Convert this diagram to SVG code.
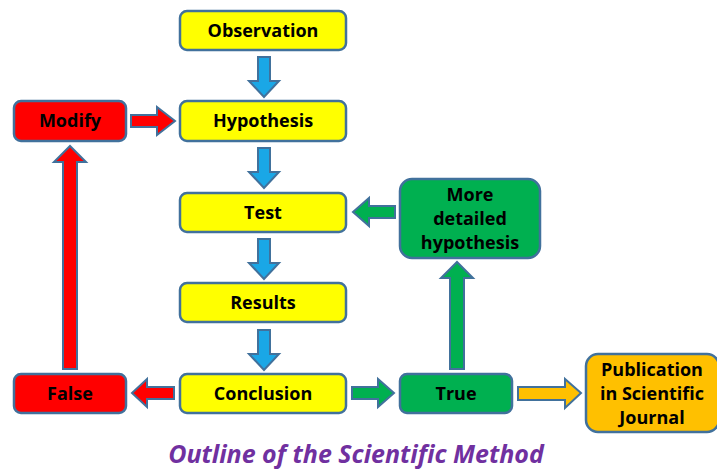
<svg xmlns="http://www.w3.org/2000/svg" width="717" height="469" viewBox="0 0 717 469">
<style>
.box{stroke:#41719C;stroke-width:2.5}
.y{fill:#FFFF00}.r{fill:#FF0000}.g{fill:#00B050}.o{fill:#FFC000}
.arr{stroke:#41719C;stroke-width:2;stroke-linejoin:miter}
.ab{fill:#1AA7E6}
text{font-family:"Open Sans","Liberation Sans",sans-serif;font-weight:bold;font-size:18px;fill:#000;text-anchor:middle}
.title{font-style:italic;font-size:25px;fill:#7030A0}
</style>
<defs>
<polygon id="down" points="-6,0 6,0 6,24 15,24 0,40 -15,24 -6,24"/>
</defs>
<g id="connectors">
<use href="#down" class="arr ab" transform="translate(264,57)"/>
<use href="#down" class="arr ab" transform="translate(264,148)"/>
<use href="#down" class="arr ab" transform="translate(264,239)"/>
<use href="#down" class="arr ab" transform="translate(264,330)"/>
<polygon class="arr r" points="131,115 157,115 157,107 175,121 157,135 157,127 131,127"/>
<polygon class="arr r" points="63,369 63,162 54,162 70,146 86,162 77,162 77,369"/>
<polygon class="arr r" points="174,387 147,387 147,379 132,393 147,407 147,399 174,399"/>
<polygon class="arr g" points="352,387 378,387 378,379 394,393 378,407 378,399 352,399"/>
<polygon class="arr g" points="450,369 450,278 441,278 457,262 473,278 464,278 464,369"/>
<polygon class="arr g" points="395,206 369,206 369,198 353,212 369,226 369,218 395,218"/>
<polygon class="arr o" points="518,387 565,387 565,379 581,393 565,408 565,400 518,400"/>
</g>
<g id="observation"><rect class="box y" x="180" y="11" width="166" height="39" rx="7"/><text x="263" y="37">Observation</text></g>
<g id="hypothesis"><rect class="box y" x="180" y="101" width="166" height="40" rx="7"/><text x="263" y="127">Hypothesis</text></g>
<g id="test"><rect class="box y" x="180" y="193" width="166" height="39" rx="7"/><text x="263" y="219">Test</text></g>
<g id="results"><rect class="box y" x="180" y="283" width="166" height="39" rx="7"/><text x="263" y="309">Results</text></g>
<g id="conclusion"><rect class="box y" x="180" y="374" width="166" height="39" rx="7"/><text x="263" y="400">Conclusion</text></g>
<g id="modify"><rect class="box r" x="14" y="101" width="112" height="40" rx="7"/><text x="70" y="127">Modify</text></g>
<g id="false"><rect class="box r" x="14" y="374" width="112" height="39" rx="7"/><text x="70" y="400">False</text></g>
<g id="true"><rect class="box g" x="400" y="374" width="112" height="39" rx="7"/><text x="456" y="400">True</text></g>
<g id="more-detailed"><rect class="box g" x="400" y="179" width="140" height="79" rx="12"/><text x="470" y="201">More</text><text x="470" y="225">detailed</text><text x="470" y="249">hypothesis</text></g>
<g id="publication"><rect class="box o" x="586" y="354" width="133" height="78" rx="12"/><text x="652" y="376">Publication</text><text x="652" y="400">in Scientific</text><text x="652" y="424">Journal</text></g>
<text class="title" x="356" y="463">Outline of the Scientific Method</text>
</svg>
